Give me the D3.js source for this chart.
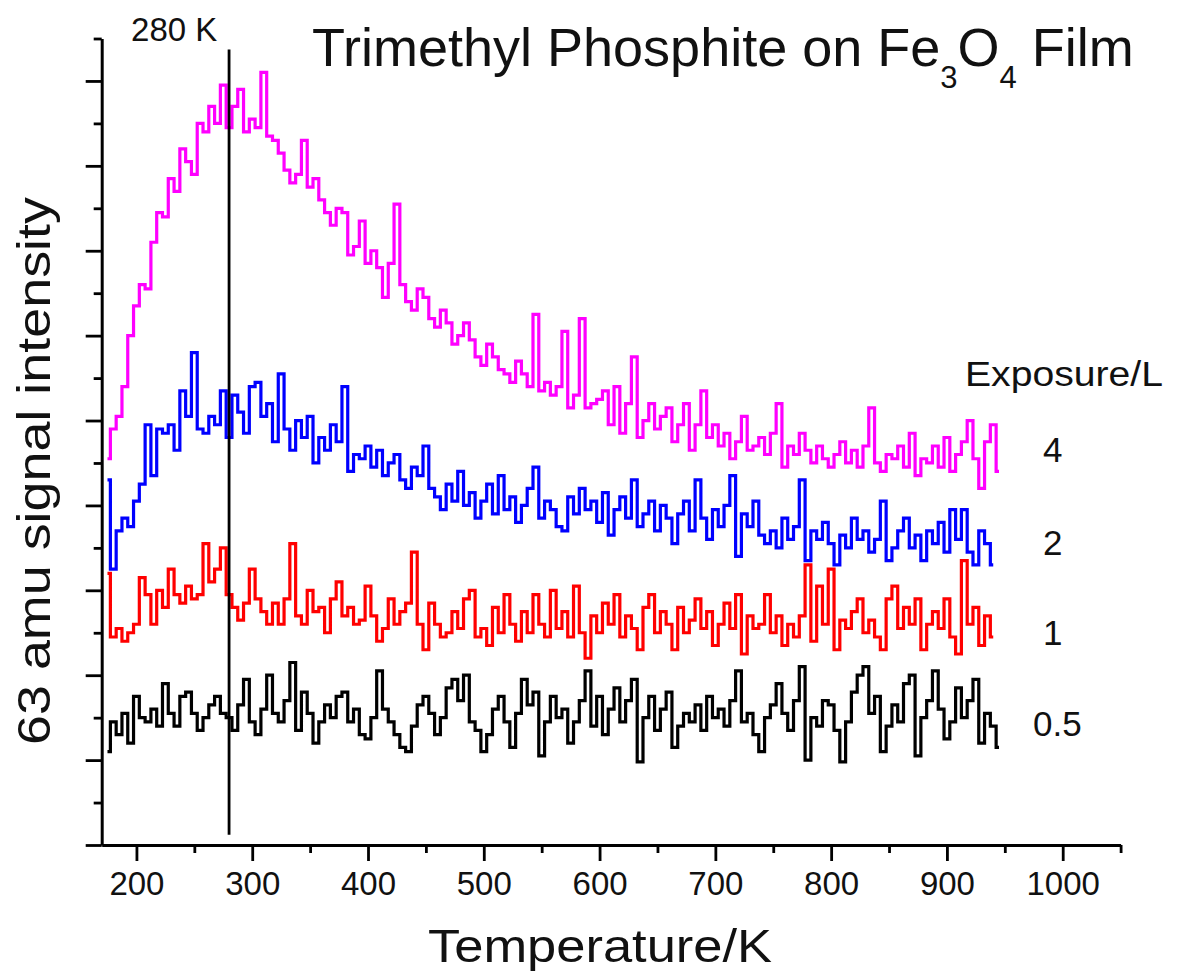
<!DOCTYPE html>
<html><head><meta charset="utf-8">
<script src="https://cdn.jsdelivr.net/npm/d3@7"></script>
<style>
body{margin:0;background:#fff}
svg{display:block}
text{font-family:"Liberation Sans",Arial,Helvetica,sans-serif;fill:#111}
</style>
</head><body>
<svg id="chart" width="1181" height="971"></svg>
<script>
// ---------------- data ----------------
const temperature = [
175,180,185,190,195,200,205,210,215,220,
225,230,235,240,245,250,255,260,265,270,
275,280,285,290,295,300,305,310,315,320,
325,330,335,340,345,350,355,360,365,370,
375,380,385,390,395,400,405,410,415,420,
425,430,435,440,445,450,455,460,465,470,
475,480,485,490,495,500,505,510,515,520,
525,530,535,540,545,550,555,560,565,570,
575,580,585,590,595,600,605,610,615,620,
625,630,635,640,645,650,655,660,665,670,
675,680,685,690,695,700,705,710,715,720,
725,730,735,740,745,750,755,760,765,770,
775,780,785,790,795,800,805,810,815,820,
825,830,835,840,845,850,855,860,865,870,
875,880,885,890,895,900,905,910,915,920,
925,930,935,940,945];

const exposure4L = [
4.55,4.9,5.05,5.4,6.0,6.35,6.6,6.55,7.1,7.45,
7.4,7.85,7.7,8.2,8.05,7.9,8.5,8.4,8.7,8.5,
8.95,8.45,8.7,8.9,8.4,8.55,8.45,9.1,8.35,8.3,
8.15,7.95,7.8,7.9,8.3,7.75,7.85,7.6,7.45,7.3,
7.5,7.45,6.95,7.05,7.35,6.85,7.0,6.8,6.45,6.85,
7.55,6.6,6.4,6.3,6.55,6.45,6.2,6.1,6.3,6.15,
5.9,6.0,6.15,5.95,5.75,5.65,5.9,5.75,5.6,5.55,
5.45,5.7,5.55,5.4,6.25,5.35,5.45,5.3,5.4,6.05,
5.15,5.3,6.2,5.15,5.2,5.25,5.35,4.95,5.4,4.85,
5.2,5.75,4.8,5.0,5.2,4.9,5.05,5.15,4.75,4.95,
5.2,4.65,4.95,5.35,4.8,4.95,4.7,4.85,4.55,4.75,
5.05,4.65,4.7,4.8,4.6,4.85,5.2,4.45,4.7,4.6,
4.85,4.65,4.5,4.7,4.55,4.45,4.6,4.75,4.5,4.65,
4.45,4.7,5.15,4.5,4.4,4.6,4.55,4.7,4.45,4.85,
4.35,4.55,4.5,4.7,4.45,4.8,4.4,4.6,4.75,5.0,
4.55,4.2,4.75,4.95,4.4];

const exposure2L = [
4.3,3.25,3.7,3.85,3.75,4.05,4.25,4.95,4.35,4.9,
4.85,4.95,4.65,5.35,5.05,5.8,4.9,4.85,5.05,4.95,
5.35,4.8,5.3,5.1,4.85,5.4,5.45,5.05,5.2,4.75,
5.55,4.9,4.65,5.0,4.8,5.05,4.5,4.8,4.65,4.95,
4.75,5.4,4.4,4.6,4.55,4.7,4.45,4.65,4.35,4.5,
4.6,4.3,4.2,4.45,4.35,4.7,4.2,4.1,3.95,4.25,
4.05,4.4,4.0,4.15,3.85,4.05,4.25,3.9,4.35,3.95,
4.1,3.8,4.0,4.2,4.45,3.85,4.05,3.95,3.75,3.7,
4.1,3.9,4.2,3.95,4.05,3.8,4.15,3.65,3.95,4.1,
3.85,4.3,3.75,3.9,4.05,3.7,4.0,3.85,3.55,3.9,
4.05,3.7,4.3,3.85,3.6,3.95,3.75,4.0,4.35,3.4,
3.9,3.75,4.05,3.65,3.55,3.7,3.5,3.85,3.6,3.75,
4.3,3.35,3.7,3.6,3.8,3.55,3.3,3.65,3.5,3.85,
3.6,3.7,3.45,3.6,4.05,3.35,3.5,3.7,3.85,3.5,
3.65,3.35,3.7,3.55,3.8,3.45,3.95,3.6,3.95,3.45,
3.3,3.7,3.55,3.3,null];

const exposure1L = [
3.2,2.45,2.55,2.4,2.5,2.6,3.15,2.95,2.6,3.0,
2.8,3.25,2.95,2.85,3.05,2.9,2.95,3.55,3.1,3.25,
3.5,2.95,2.8,2.65,2.85,3.25,2.9,2.75,2.6,2.85,
2.6,2.9,3.55,2.7,2.6,3.0,2.75,2.8,2.5,2.9,
3.1,2.7,2.8,2.6,2.65,3.05,2.7,2.4,2.55,2.9,
2.6,2.75,2.85,3.45,2.6,2.3,2.85,2.6,2.45,2.5,
2.75,2.55,2.9,3.0,2.45,2.55,2.35,2.8,2.5,2.95,
2.6,2.4,2.75,2.5,2.95,2.6,2.45,3.0,2.55,2.75,
2.45,3.05,2.5,2.2,2.7,2.5,2.85,2.6,2.95,2.45,
2.7,2.55,2.3,2.8,2.95,2.5,2.75,2.6,2.3,2.8,
2.5,2.65,2.9,2.55,2.75,2.35,2.6,2.85,2.55,2.95,
2.25,2.7,2.55,2.6,2.95,2.5,2.7,2.35,2.6,2.45,
2.7,3.3,2.4,3.05,2.6,3.25,2.3,2.65,2.55,2.75,
2.9,2.5,2.65,2.45,2.3,2.9,3.05,2.55,2.8,2.6,
2.9,2.3,2.6,2.75,2.55,2.9,2.45,2.25,3.35,2.6,
2.8,2.35,2.7,2.45,null];

const exposure05L = [
1.1,1.45,1.3,1.55,1.2,1.75,1.5,1.45,1.6,1.4,
1.9,1.55,1.4,1.75,1.8,1.55,1.35,1.5,1.65,1.75,
1.55,1.5,1.35,1.65,1.95,1.45,1.3,1.6,2.0,1.55,
1.45,1.7,2.15,1.35,1.8,1.55,1.2,1.45,1.65,1.5,
1.75,1.8,1.45,1.6,1.3,1.25,1.5,2.05,1.6,1.45,
1.3,1.15,1.1,1.4,1.65,1.75,1.55,1.3,1.5,1.85,
1.95,1.7,2.0,1.45,1.35,1.1,1.3,1.6,1.75,1.45,
1.15,1.55,1.95,1.65,1.8,1.05,1.45,1.75,1.5,1.6,
1.2,1.45,1.7,2.05,1.4,1.75,1.3,1.6,1.85,1.45,
1.7,1.95,0.98,1.5,1.75,1.35,1.6,1.8,1.15,1.4,
1.55,1.45,1.65,1.35,1.75,1.5,1.6,1.4,1.7,2.05,
1.45,1.55,1.3,1.1,1.5,1.65,1.9,1.55,1.35,1.7,
2.1,1.0,1.5,1.4,1.7,1.65,1.35,0.98,1.45,1.8,
2.0,2.1,1.55,1.75,1.1,1.4,1.65,1.45,1.9,2.0,
1.05,1.5,1.7,2.05,1.6,1.25,1.45,1.85,1.5,1.7,
1.95,1.2,1.55,1.4,1.15];

const seriesNames = ["4", "2", "1", "0.5"];
const seriesColors = ["#ff00ff", "#0000ff", "#ff0000", "#000000"];
const seriesValues = [exposure4L, exposure2L, exposure1L, exposure05L];

const xMajorTicks = [200,300,400,500,600,700,800,900,1000];
const xMinorTicks = [250,350,450,550,650,750,850,950,1050];
const yMajorTicks = [0,1,2,3,4,5,6,7,8,9];
const yMinorTicks = [0.5,1.5,2.5,3.5,4.5,5.5,6.5,7.5,8.5,9.5];
const markerTemperature = 280;

// ---------------- layout ----------------
const svg = d3.select("#chart");
const x = d3.scaleLinear().domain([170, 1050]).range([101.7, 1120.6]);
const y = d3.scaleLinear().domain([0, 9.5]).range([845, 38.5]);

function fit(sel, w) {
  sel.attr("textLength", w).attr("lengthAdjust", "spacingAndGlyphs");
}

// data lines
const line = d3.line()
  .defined(d => d[1] !== null)
  .x(d => x(d[0]))
  .y(d => y(d[1]))
  .curve(d3.curveStep);

seriesValues.forEach((vals, i) => {
  const pts = temperature.map((t, k) => [t, vals[k] === undefined ? null : vals[k]]);
  svg.append("path")
    .datum(pts)
    .attr("fill", "none")
    .attr("stroke", seriesColors[i])
    .attr("stroke-width", 3.2)
    .attr("stroke-linejoin", "miter")
    .attr("d", line);
});

// marker line at 280 K
svg.append("line")
  .attr("x1", x(markerTemperature)).attr("x2", x(markerTemperature))
  .attr("y1", y(9.37)).attr("y2", y(0.12))
  .attr("stroke", "#000").attr("stroke-width", 2.8);

svg.append("text")
  .attr("x", x(markerTemperature) - 98).attr("y", 41)
  .attr("font-size", 33)
  .text(markerTemperature + " K");

// axes
const gx = svg.append("g").attr("transform", "translate(0,845)");
gx.call(d3.axisBottom(x).tickValues(xMajorTicks).tickSize(16).tickSizeOuter(0).tickPadding(11).tickFormat(d3.format("d")));
gx.select(".domain").attr("stroke-width", 3);
gx.selectAll(".tick line").attr("stroke-width", 2.8);
gx.selectAll(".tick text").attr("font-size", 33).attr("font-family", "Liberation Sans, Arial, sans-serif").attr("fill", "#111");

const gxm = svg.append("g").attr("transform", "translate(0,845)");
gxm.call(d3.axisBottom(x).tickValues(xMinorTicks).tickSize(8).tickSizeOuter(0).tickFormat(""));
gxm.select(".domain").remove();
gxm.selectAll(".tick line").attr("stroke-width", 2.8);

const gy = svg.append("g").attr("transform", "translate(101.7,0)");
gy.call(d3.axisLeft(y).tickValues(yMajorTicks).tickSize(16).tickSizeOuter(0).tickFormat(""));
gy.select(".domain").attr("stroke-width", 3);
gy.selectAll(".tick line").attr("stroke-width", 2.8);

const gym = svg.append("g").attr("transform", "translate(101.7,0)");
gym.call(d3.axisLeft(y).tickValues(yMinorTicks).tickSize(8).tickSizeOuter(0).tickFormat(""));
gym.select(".domain").remove();
gym.selectAll(".tick line").attr("stroke-width", 2.8);

// axis titles
svg.append("text")
  .attr("x", 600).attr("y", 962)
  .attr("text-anchor", "middle")
  .attr("font-size", 46)
  .text("Temperature/K")
  .call(fit, 344);

svg.append("text")
  .attr("transform", "translate(50,471) rotate(-90)")
  .attr("text-anchor", "middle")
  .attr("font-size", 46)
  .text("63 amu signal intensity")
  .call(fit, 548);

// title with subscripts
const title = svg.append("text")
  .attr("x", 312).attr("y", 66)
  .attr("font-size", 54);
title.append("tspan").text("Trimethyl Phosphite on Fe");
title.append("tspan").attr("dy", 22).attr("font-size", 31).text("3");
title.append("tspan").attr("dy", -22).text("O");
title.append("tspan").attr("dy", 22).attr("font-size", 31).text("4");
title.append("tspan").attr("dy", -22).text(" Film");

// legend labels
svg.append("text")
  .attr("x", 965).attr("y", 386)
  .attr("font-size", 35)
  .text("Exposure/L")
  .call(fit, 198);

const legendBaselines = [462, 555, 645, 736];
const legendX = [1043, 1043, 1043, 1033];
seriesNames.forEach((n, i) => {
  svg.append("text")
    .attr("x", legendX[i]).attr("y", legendBaselines[i])
    .attr("font-size", 35)
    .text(n);
});
</script>
</body></html>
